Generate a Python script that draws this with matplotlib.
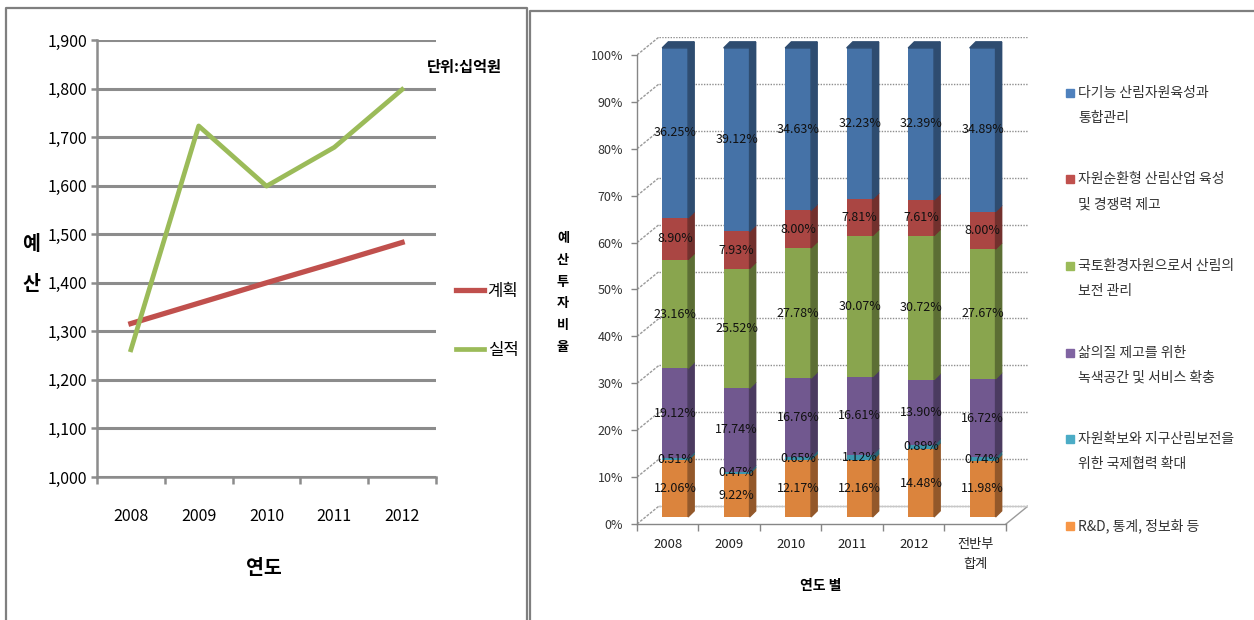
import matplotlib
matplotlib.use('Agg')
import matplotlib.pyplot as plt
from matplotlib.patches import Polygon, Rectangle
from matplotlib.lines import Line2D
from matplotlib.ticker import FixedLocator

plt.rcParams['font.family'] = ['Noto Sans CJK KR', 'DejaVu Sans']

# ---- data: left line chart (단위: 십억원) ----
years = ['2008', '2009', '2010', '2011', '2012']
plan = [1316, 1358, 1400, 1441, 1483]      # 계획
actual = [1262, 1723, 1599, 1679, 1798]    # 실적

# ---- data: right 100% stacked bars (bottom -> top) ----
bar_cats = ['2008', '2009', '2010', '2011', '2012', '전반부\n합계']
rnd = [12.06, 9.22, 12.17, 12.16, 14.48, 11.98]
intl = [0.51, 0.47, 0.65, 1.12, 0.89, 0.74]
green_life = [19.12, 17.74, 16.76, 16.61, 13.90, 16.72]
conserve = [23.16, 25.52, 27.78, 30.07, 30.72, 27.67]
industry = [8.90, 7.93, 8.00, 7.81, 7.61, 8.00]
multi = [36.25, 39.12, 34.63, 32.23, 32.39, 34.89]

series = [rnd, intl, green_life, conserve, industry, multi]
front_colors = ['#DB843D', '#3D96AE', '#71588F', '#89A54E', '#AA4643', '#4572A7']
side_colors = ['#93582A', '#296475', '#4B3B60', '#5C6E34', '#72302D', '#2E4C70']
legend_colors = ['#4F81BD', '#C0504D', '#9BBB59', '#8064A2', '#4BACC6', '#F79646']
legend_labels = [
    '다기능 산림자원육성과\n통합관리',
    '자원순환형 산림산업 육성\n및 경쟁력 제고',
    '국토환경자원으로서 산림의\n보전 관리',
    '삶의질 제고를 위한\n녹색공간 및 서비스 확충',
    '자원확보와 지구산림보전을\n위한 국제협력 확대',
    'R&D, 통계, 정보화 등',
]

W, H = 1254, 620
fig = plt.figure(figsize=(W / 100, H / 100), dpi=100)


def fx(px):
    return px / W


def fy(py):
    return 1 - py / H


grid_gray = '#8C8C8C'

# ================= left chart =================
ax1 = fig.add_axes([fx(97), fy(477), (436 - 97) / W, (477 - 40) / H])
x = list(range(len(years)))
ax1.plot(x, plan, color='#C0504D', lw=3.8, label='계획', zorder=3)
ax1.plot(x, actual, color='#9BBB59', lw=3.4, label='실적', zorder=3)
ax1.set_xlim(-0.5, len(years) - 0.5)
ax1.set_ylim(1000, 1900)
ax1.set_yticks(range(1000, 1901, 100))
ax1.set_yticklabels([f'{v:,}' for v in range(1000, 1901, 100)], fontsize=11.5)
ax1.grid(axis='y', color=grid_gray, lw=2.2)
ax1.set_axisbelow(True)
for s in ['top', 'right']:
    ax1.spines[s].set_visible(False)
for s in ['left', 'bottom']:
    ax1.spines[s].set_color(grid_gray)
    ax1.spines[s].set_linewidth(1.8)
ax1.tick_params(axis='y', length=4, width=1.8, color=grid_gray, pad=3)
ax1.set_xticks(x)
ax1.set_xticklabels(years, fontsize=11.5)
ax1.tick_params(axis='x', which='major', length=0, pad=22)
ax1.xaxis.set_minor_locator(FixedLocator([i - 0.5 for i in range(len(years) + 1)]))
ax1.tick_params(axis='x', which='minor', length=5, width=1.8, color=grid_gray)

ax1.legend(loc='center left', bbox_to_anchor=(fx(456), fy(321)),
           bbox_transform=fig.transFigure, frameon=False, fontsize=12,
           handlelength=1.7, handletextpad=0.2, labelspacing=2.5,
           borderpad=0, borderaxespad=0)
fig.text(fx(464), fy(67), '단위:십억원', ha='center', va='center',
         fontsize=11, fontweight='bold')
fig.text(fx(31), fy(244), '예', ha='center', va='center', fontsize=14, fontweight='bold')
fig.text(fx(31), fy(285), '산', ha='center', va='center', fontsize=14, fontweight='bold')
fig.text(fx(264), fy(568), '연도', ha='center', va='center', fontsize=14, fontweight='bold')

# ================= right chart (pseudo 3D) =================
DXW, DYW = 0.358, 3.83      # back wall offset
DXB, DYB = 0.12, 1.5        # bar front face offset
SDX, SDY = 0.10, 1.3        # bar depth
BW = 0.42

n = len(bar_cats)
ax2 = fig.add_axes([fx(637), fy(524), (1028 - 637) / W, (524 - 37) / H])
ax2.set_xlim(-0.5, n - 0.5 + DXW)
ax2.set_ylim(0, 100 + DYW)
for s in ['top', 'right']:
    ax2.spines[s].set_visible(False)
for s in ['left', 'bottom']:
    ax2.spines[s].set_color('#868686')
    ax2.spines[s].set_linewidth(1.0)
ax2.spines['left'].set_bounds(0, 100)
ax2.spines['bottom'].set_bounds(-0.5, n - 0.5)

# back wall gridlines and depth connectors
for v in range(0, 101, 10):
    ax2.plot([-0.5 + DXW, n - 0.5 + DXW], [v + DYW, v + DYW], color='#8E8E8E',
             lw=1.0, ls=(0, (1, 1)), zorder=1)
    ax2.plot([-0.5, -0.5 + DXW], [v, v + DYW], color='#9A9A9A',
             lw=1.0, ls=(0, (2, 1)), zorder=1)
ax2.plot([n - 0.5, n - 0.5 + DXW], [0, DYW], color='#9A9A9A', lw=1.0, zorder=1)
ax2.plot([-0.5 + DXW, n - 0.5 + DXW], [DYW, DYW], color='#C8C8C8', lw=1.0, zorder=1)

bottoms = [0.0] * n
for vals, fc, sc in zip(series, front_colors, side_colors):
    xs = [i + DXB for i in range(n)]
    ys = [b + DYB for b in bottoms]
    ax2.bar(xs, vals, width=BW, bottom=ys, color=fc, zorder=3)
    for xi, yb, v in zip(xs, ys, vals):
        xr = xi + BW / 2
        ax2.add_patch(Polygon([(xr, yb), (xr + SDX, yb + SDY), (xr + SDX, yb + v + SDY),
                               (xr, yb + v)], closed=True, color=sc, zorder=3))
        ax2.text(xi, yb + v / 2, f'{v:.2f}%', ha='center', va='center',
                 fontsize=9, color='#111111', zorder=5)
    bottoms = [b + v for b, v in zip(bottoms, vals)]

# top faces of the stacks
for i, b in enumerate(bottoms):
    xl = i + DXB - BW / 2
    yt = b + DYB
    ax2.add_patch(Polygon([(xl, yt), (xl + BW, yt), (xl + BW + SDX, yt + SDY),
                           (xl + SDX, yt + SDY)], closed=True,
                          color=side_colors[-1], zorder=3))

ax2.set_yticks(range(0, 101, 10))
ax2.set_yticklabels([f'{v}%' for v in range(0, 101, 10)], fontsize=9, color='#333333')
ax2.tick_params(axis='y', length=4, width=1.0, color='#868686', pad=6)
ax2.set_xticks(range(n))
ax2.set_xticklabels(bar_cats, fontsize=9.5, color='#222222', linespacing=1.7)
ax2.tick_params(axis='x', which='major', length=0, pad=10)
ax2.xaxis.set_minor_locator(FixedLocator([i - 0.5 for i in range(n + 1)]))
ax2.tick_params(axis='x', which='minor', length=5, width=1.0, color='#868686')

for k, ch in enumerate('예산투자비율'):
    fig.text(fx(563), fy(238 + k * 21.8), ch, ha='center', va='center',
             fontsize=9.5, fontweight='bold')
fig.text(fx(821), fy(586), '연도 별', ha='center', va='center',
         fontsize=10, fontweight='bold')

# legend (right)
for k, (lab, col) in enumerate(zip(legend_labels, legend_colors)):
    y0 = 93 + k * 86.5
    fig.add_artist(Rectangle((fx(1066), fy(y0 + 4)), 8 / W, 8 / H,
                             transform=fig.transFigure, color=col))
    for j, line in enumerate(lab.split('\n')):
        fig.text(fx(1078), fy(y0 + j * 25), line, ha='left', va='center',
                 fontsize=10, color='#333333')

# panel borders
border = dict(color='#7F7F7F', lw=1.6, transform=fig.transFigure)
fig.add_artist(Line2D([fx(6), fx(6), fx(527), fx(527)], [fy(620), fy(8), fy(8), fy(620)], **border))
fig.add_artist(Line2D([fx(530), fx(530), fx(1254)], [fy(620), fy(11), fy(11)], **border))

fig.savefig('out.png', dpi=100)
